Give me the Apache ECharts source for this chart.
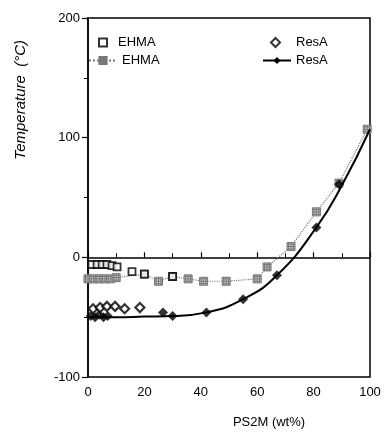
<!DOCTYPE html>
<html><head><meta charset="utf-8">
<script src="https://cdn.jsdelivr.net/npm/echarts@6/dist/echarts.min.js"></script>
<style>html,body{margin:0;padding:0;background:#fff}#c{width:385px;height:442px}</style>
</head><body><div id="c"></div>
<script>
// EHMA open squares (x = PS2M wt%, y = temperature °C)
const ehmaSqX = [1.4, 3.2, 5, 6.7, 8.5, 10.3, 15.6, 20, 30];
const ehmaSqY = [-6, -6, -6, -6, -7, -8, -12, -14, -16];
// EHMA hatched markers with dotted line
const ehmaLnX = [0, 2, 4, 6, 8, 10, 20, 25, 30, 35.5, 41, 49, 60, 63.5, 72, 81, 89, 99];
const ehmaLnY = [-18, -18, -18, -18, -18, -17, -14, -20, -16, -18, -20, -20, -18, -8, 9, 38, 62, 107];
// ResA open diamonds
const resOpX = [1.8, 4.3, 6.7, 9.6, 13, 18.4];
const resOpY = [-43, -42, -41, -41, -43, -42];
// ResA filled diamonds
const resFiX = [1, 2.5, 4, 5.5, 7, 26.6, 30, 42, 55, 67, 81, 89];
const resFiY = [-49, -50, -48, -50, -49, -46, -49, -46, -35, -15, 25, 61];
// ResA fitted curve
const resCurveX = [0, 10, 20, 30, 42, 55, 67, 81, 90, 100];
const resCurveY = [-50, -50, -49.5, -49, -46, -35, -15, 25, 60, 107];

const xTicks = [0, 20, 40, 60, 80, 100];
const yTicks = [-100, 0, 100, 200];

const zip = (a, b) => a.map((v, i) => [v, b[i]]);
const font = 'Liberation Sans, Arial, sans-serif';
const hatch = 'path://M0,0L10,0L10,10L0,10Z M2,0L2,10 M5,0L5,10 M8,0L8,10 M0,2L10,2 M0,5L10,5 M0,8L10,8';

const chart = echarts.init(document.getElementById('c'), null, {renderer: 'canvas'});
const labelName = n => n.split(' ')[0];
const legendBase = {orient: 'horizontal', itemGap: 4,
  textStyle: {fontFamily: font, fontSize: 13, color: '#000'}, formatter: labelName, selectedMode: false};
chart.setOption({
  animation: false,
  grid: {left: 88, right: 15, top: 18, bottom: 65, show: true, borderColor: '#000', borderWidth: 1.5},
  legend: [
    Object.assign({}, legendBase, {data: ['EHMA dsc'], left: 93, top: 31, itemWidth: 8, itemHeight: 8,
      textStyle: {fontFamily: font, fontSize: 13, color: '#000', padding: [0, 0, 0, 6]}}),
    Object.assign({}, legendBase, {data: ['EHMA line'], left: 83, top: 49, itemWidth: 28, itemHeight: 9}),
    Object.assign({}, legendBase, {data: ['ResA dsc'], left: 265, top: 31, itemWidth: 9, itemHeight: 9,
      textStyle: {fontFamily: font, fontSize: 13, color: '#000', padding: [0, 0, 0, 11]}}),
    Object.assign({}, legendBase, {data: ['ResA line'], left: 257, top: 49, itemWidth: 28, itemHeight: 9})
  ],
  xAxis: {
    type: 'value', min: xTicks[0], max: xTicks[xTicks.length - 1], interval: 20,
    name: 'PS2M (wt%)', nameLocation: 'middle', nameGap: 39,
    nameTextStyle: {fontFamily: font, fontSize: 13, color: '#000', padding: [0, 0, 0, 80]},
    axisLine: {lineStyle: {color: '#000', width: 1.5}},
    axisTick: {inside: true, length: 5, lineStyle: {color: '#000', width: 1.2}},
    minorTick: {show: true, splitNumber: 2, length: 4, lineStyle: {color: '#000'}},
    axisLabel: {fontFamily: font, fontSize: 13, color: '#000', margin: 9},
    splitLine: {show: false}
  },
  yAxis: {
    type: 'value', min: yTicks[0], max: yTicks[yTicks.length - 1], interval: 100,
    axisLine: {lineStyle: {color: '#000', width: 1.5}},
    axisTick: {length: 6, lineStyle: {color: '#000', width: 1.2}},
    minorTick: {show: true, splitNumber: 2, length: 4, lineStyle: {color: '#000'}},
    axisLabel: {fontFamily: font, fontSize: 13, color: '#000', margin: 8},
    splitLine: {show: false}
  },
  graphic: [{
    type: 'text', left: 13, top: 40, rotation: Math.PI / 2,
    style: {text: 'Temperature  (°C)', font: 'italic 15px ' + font, fill: '#000'}
  }],
  series: [
    {name: 'EHMA line', type: 'line', data: zip(ehmaLnX, ehmaLnY), symbol: hatch, symbolSize: 8,
      lineStyle: {color: '#777', width: 1.2, type: 'dotted'},
      itemStyle: {color: '#d0d0d0', borderColor: '#777', borderWidth: 1}, z: 3},
    {name: 'EHMA dsc', type: 'scatter', data: zip(ehmaSqX, ehmaSqY), symbol: 'rect', symbolSize: 7,
      itemStyle: {color: '#fff', borderColor: '#000', borderWidth: 1.8}, z: 4},
    {name: 'ResA line', type: 'line', data: zip(resCurveX, resCurveY), smooth: 0.5, showSymbol: false,
      symbol: 'diamond', symbolSize: 9,
      lineStyle: {color: '#000', width: 2}, itemStyle: {color: '#000'}, z: 5},
    {name: 'ResA line', type: 'scatter', data: zip(resFiX, resFiY), symbol: 'diamond', symbolSize: 10,
      itemStyle: {color: '#000'}, z: 6},
    {name: 'ResA dsc', type: 'scatter', data: zip(resOpX, resOpY), symbol: 'diamond', symbolSize: 9,
      itemStyle: {color: '#fff', borderColor: '#000', borderWidth: 2.2}, z: 6}
  ]
});
</script></body></html>
